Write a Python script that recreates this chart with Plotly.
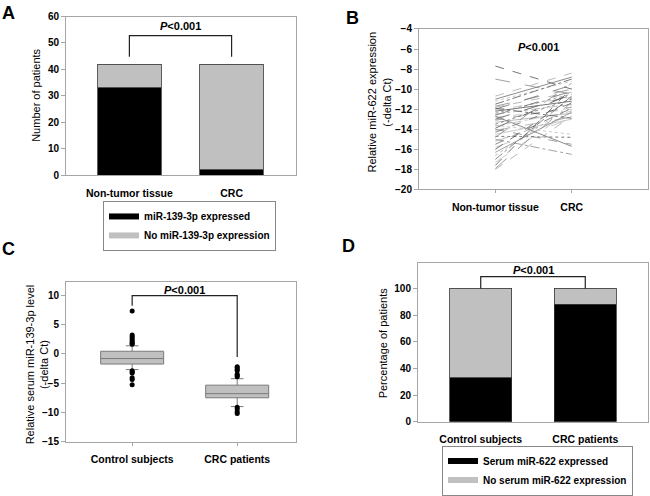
import plotly.graph_objects as go

# ---------------- DATA ----------------
# Panel A
a_categories = ["Non-tumor tissue", "CRC"]
a_expressed = [33, 2]
a_not_expressed = [9, 40]

# Panel B (paired values, non-tumor vs CRC)
b_categories = ["Non-tumor tissue", "CRC"]
b_nontumor = [-7.7, -9.0, -10.7, -11.0, -11.2, -11.5, -11.7, -11.8, -12.0, -12.1,
              -12.2, -12.4, -12.5, -12.6, -12.8, -13.0, -13.1, -13.3, -13.5, -13.7,
              -13.9, -14.0, -14.1, -14.3, -14.5, -14.7, -15.0, -15.2, -15.5, -15.8,
              -16.0, -16.3, -16.6, -17.0, -17.3, -17.6, -17.9, -18.0, -12.7, -13.6,
              -11.9, -14.8]
b_crc = [-10.0, -10.5, -8.4, -8.8, -9.2, -9.0, -10.0, -10.3, -9.6, -10.8,
         -11.2, -10.5, -11.5, -10.2, -12.0, -10.6, -11.8, -12.4, -11.0, -12.2,
         -10.4, -15.5, -12.8, -11.4, -13.0, -14.8, -16.5, -12.6, -11.9, -12.9,
         -10.9, -12.3, -11.6, -10.7, -12.1, -9.9, -11.3, -12.7, -15.7, -14.5,
         -12.9, -9.4]

# Panel C (box statistics + outliers)
c_categories = ["Control subjects", "CRC patients"]
c_q1 = [-1.75, -7.5]
c_median = [-0.82, -6.8]
c_q3 = [0.43, -5.35]
c_lower = [-2.7, -9.0]
c_upper = [1.36, -4.25]
c_out_control = [7.3, 3.2, 2.9, 2.6, 2.3, 2.0, 1.8, 1.6, -2.9, -3.1, -3.3, -4.1, -4.4, -5.3]
c_out_crc = [-2.2, -2.4, -2.7, -2.9, -3.5, -3.7, -3.9, -9.1, -9.4, -9.9, -10.2]

# Panel D
d_categories = ["Control subjects", "CRC patients"]
d_expressed = [33, 88]
d_not_expressed = [67, 12]

# ---------------- STYLE ----------------
BLACK = "#000000"
GREY = "#c0c0c0"
FRAME = "#a6a6a6"
FONT = "Liberation Sans"
W, H = 650, 496


def dom_x(x0, x1):
    return [x0 / W, x1 / W]


def dom_y(y0, y1):
    return [1 - y1 / H, 1 - y0 / H]


fig = go.Figure()

# ----- Panel A -----
fig.add_trace(go.Bar(x=a_categories, y=a_expressed, marker=dict(color=BLACK, line=dict(color="#333", width=0.8)),
                     width=0.62, showlegend=False, xaxis="x", yaxis="y"))
fig.add_trace(go.Bar(x=a_categories, y=a_not_expressed, marker=dict(color=GREY, line=dict(color="#333", width=0.8)),
                     width=0.62, showlegend=False, xaxis="x", yaxis="y"))
fig.add_trace(go.Scatter(x=[None], y=[None], mode="lines", line=dict(color=BLACK, width=6),
                         name="miR-139-3p expressed", legend="legend", xaxis="x", yaxis="y"))
fig.add_trace(go.Scatter(x=[None], y=[None], mode="lines", line=dict(color=GREY, width=6),
                         name="No miR-139-3p expression", legend="legend", xaxis="x", yaxis="y"))

# ----- Panel B -----
colors = ["#555555", "#8a8a8a", "#a8a8a8", "#6e6e6e", "#bdbdbd"]
dashes = ["dash", "longdash", "dash", "solid", "dot", "dashdot", "longdash"]
for i, (a, b) in enumerate(zip(b_nontumor, b_crc)):
    fig.add_trace(go.Scatter(x=b_categories, y=[a, b], mode="lines",
                             line=dict(color=colors[i % len(colors)], width=0.8, dash=dashes[i % len(dashes)]),
                             showlegend=False, xaxis="x2", yaxis="y2"))

# ----- Panel C -----
fig.add_trace(go.Box(x=c_categories, q1=c_q1, median=c_median, q3=c_q3,
                     lowerfence=c_lower, upperfence=c_upper,
                     fillcolor=GREY, line=dict(color="#7a7a7a", width=1), width=0.6,
                     whiskerwidth=0.2, boxpoints=False, showlegend=False, xaxis="x3", yaxis="y3"))
fig.add_trace(go.Scatter(x=[c_categories[0]] * len(c_out_control), y=c_out_control, mode="markers",
                         marker=dict(color=BLACK, size=5), showlegend=False, xaxis="x3", yaxis="y3"))
fig.add_trace(go.Scatter(x=[c_categories[1]] * len(c_out_crc), y=c_out_crc, mode="markers",
                         marker=dict(color=BLACK, size=5), showlegend=False, xaxis="x3", yaxis="y3"))

# ----- Panel D -----
fig.add_trace(go.Bar(x=d_categories, y=d_expressed, marker=dict(color=BLACK, line=dict(color="#333", width=0.8)),
                     width=0.59, showlegend=False, xaxis="x4", yaxis="y4"))
fig.add_trace(go.Bar(x=d_categories, y=d_not_expressed, marker=dict(color=GREY, line=dict(color="#333", width=0.8)),
                     width=0.59, showlegend=False, xaxis="x4", yaxis="y4"))
fig.add_trace(go.Scatter(x=[None], y=[None], mode="lines", line=dict(color=BLACK, width=6),
                         name="Serum miR-622 expressed", legend="legend2", xaxis="x4", yaxis="y4"))
fig.add_trace(go.Scatter(x=[None], y=[None], mode="lines", line=dict(color=GREY, width=6),
                         name="No serum miR-622 expression", legend="legend2", xaxis="x4", yaxis="y4"))

tickfont = dict(family=FONT, size=10, color="#000", weight="bold")
xtickfont = dict(family=FONT, size=10.5, color="#000", weight="bold")


def xaxis(domain, rng, anchor, ticks=True):
    return dict(domain=domain, range=rng, anchor=anchor, type="category", showline=True, mirror=True,
                linecolor=FRAME, linewidth=1, ticks="outside", ticklen=3,
                tickcolor=FRAME if ticks else "rgba(0,0,0,0)", ticklabelstandoff=5,
                tickfont=xtickfont, showgrid=False, zeroline=False, fixedrange=True)


def yaxis(domain, rng, anchor, dtick):
    return dict(domain=domain, range=rng, anchor=anchor, showline=True, mirror=True,
                linecolor=FRAME, linewidth=1, ticks="outside", ticklen=4, tickcolor=FRAME,
                tickfont=tickfont, showgrid=False, zeroline=False, dtick=dtick, fixedrange=True)


legfont = dict(family=FONT, size=10, weight="bold", color="#000")
fig.update_layout(
    width=W, height=H, margin=dict(l=0, r=0, t=0, b=0),
    plot_bgcolor="white", paper_bgcolor="white", barmode="stack",
    font=dict(family=FONT, size=10, color="#000"),
    xaxis=xaxis(dom_x(66, 296), [-0.62, 1.63], "y", ticks=False),
    yaxis=yaxis(dom_y(11, 177), [0, 60], "x", 10),
    xaxis2=xaxis(dom_x(419, 648), [-1.0, 2.0], "y2"),
    yaxis2=yaxis(dom_y(24, 192), [-20, -4], "x2", 2),
    xaxis3=xaxis(dom_x(66, 296), [-0.63, 1.56], "y3"),
    yaxis3=yaxis(dom_y(289, 456), [-15, 12.2], "x3", 5),
    xaxis4=xaxis(dom_x(418, 648), [-0.6, 1.6], "y4", ticks=False),
    yaxis4=yaxis(dom_y(269, 435), [0, 119], "x4", 20),
    legend=dict(x=103 / W, y=1 - 204 / H, xanchor="left", yanchor="top", bordercolor="#888", borderwidth=1,
                font=legfont, itemwidth=30, tracegroupgap=0, bgcolor="white", traceorder="normal"),
    legend2=dict(x=442 / W, y=1 - 460 / H, xanchor="left", yanchor="top", bordercolor="#888", borderwidth=1,
                 font=legfont, itemwidth=30, tracegroupgap=0, bgcolor="white", traceorder="normal"),
)

# brackets
line_style = dict(color="#222", width=1.2)
fig.add_shape(type="path", path="M 0,44.8 L 0,52.8 L 1,52.8 L 1,44.8", xref="x", yref="y", line=line_style)
fig.add_shape(type="path", path="M 0,8.2 L 0,9.9 L 1,9.9 L 1,-0.55", xref="x3", yref="y3", line=line_style)
fig.add_shape(type="path", path="M 0,100 L 0,108.9 L 1,108.9 L 1,100", xref="x4", yref="y4", line=line_style)

ptxt = "<i>P</i>&lt;0.001"
pfont = dict(family=FONT, size=11, weight="bold", color="#000")
fig.add_annotation(x=0.5, y=56.4, xref="x", yref="y", text=ptxt, showarrow=False, font=pfont)
fig.add_annotation(x=0.57, y=-5.8, xref="x2", yref="y2", text=ptxt, showarrow=False, font=pfont)
fig.add_annotation(x=0.5, y=10.9, xref="x3", yref="y3", text=ptxt, showarrow=False, font=pfont)
fig.add_annotation(x=0.5, y=113.5, xref="x4", yref="y4", text=ptxt, showarrow=False, font=pfont)

# y-axis titles
tfont = dict(family=FONT, size=11, color="#000")
titles = [("Number of patients", 36, 94),
          ("Relative miR-622 expression<br>(-delta Ct)", 379, 101),
          ("Relative serum miR-139-3p level<br>(-delta Ct)", 37, 375),
          ("Percentage of patients", 383, 353)]
for txt, px, py in titles:
    fig.add_annotation(x=px / W, y=1 - py / H, xref="paper", yref="paper", text=txt, textangle=-90,
                       xanchor="center", yanchor="middle", showarrow=False, font=tfont)

# panel letters
lfont = dict(family=FONT, size=18, weight="bold", color="#000")
for letter, px, py in [("A", 8, 7), ("B", 352, 13), ("C", 8, 254), ("D", 348, 251)]:
    fig.add_annotation(x=px / W, y=1 - py / H, xref="paper", yref="paper", text=letter,
                       xanchor="center", yanchor="middle", showarrow=False, font=lfont)

fig.write_html("out.html", config={"displayModeBar": False},
               post_script="document.body.style.margin='0';document.body.style.overflow='hidden';")
